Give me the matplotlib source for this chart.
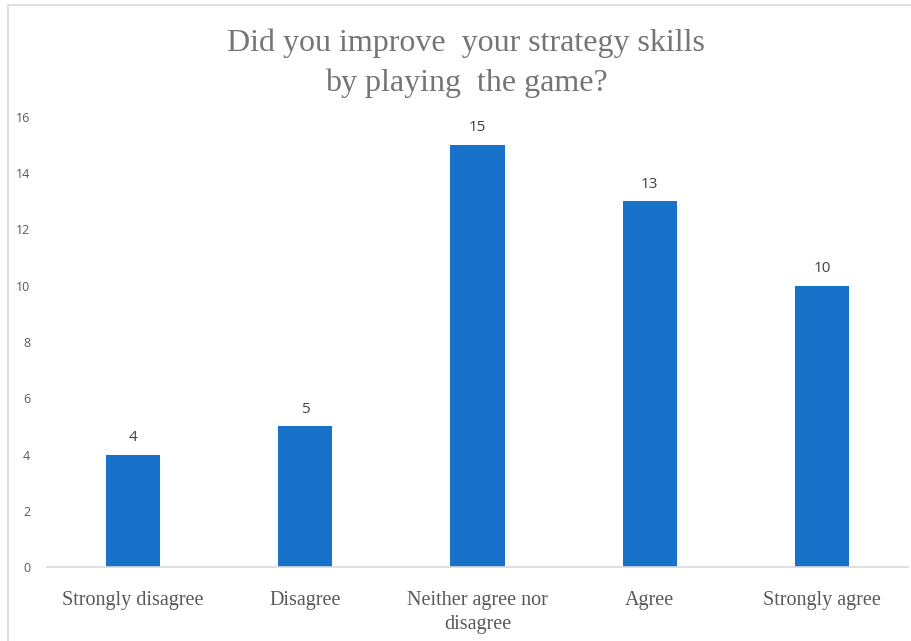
import matplotlib
matplotlib.use("Agg")
import matplotlib.pyplot as plt
from matplotlib.patches import Rectangle

categories = ["Strongly disagree", "Disagree", "Neither agree nor\ndisagree", "Agree", "Strongly agree"]
values = [4, 5, 15, 13, 10]
yticks = [0, 2, 4, 6, 8, 10, 12, 14, 16]
title = "Did you improve  your strategy skills\nby playing  the game?"

fig = plt.figure(figsize=(9.12, 6.41), dpi=100)
fig.patch.set_facecolor("white")
fig.patches.append(Rectangle((8/912, -0.01), 1.2, (641-5)/641 + 0.01, transform=fig.transFigure,
                             fill=False, edgecolor="#d9d9d9", linewidth=1.2))

ax = fig.add_axes([47/912, 74/641, 861/912, 450/641])
x = list(range(len(values)))
bars = ax.bar(x, values, width=0.315, color="#1872CA")
ax.set_xlim(-0.5, len(values) - 0.5)
ax.set_ylim(0, 16)
ax.set_yticks(yticks)
ax.set_yticklabels([str(t) for t in yticks], fontsize=9, color="#595959", family="Open Sans")
ax.set_xticks(x)
ax.set_xticklabels(categories, fontsize=14.5, color="#595959", family="Liberation Serif",
                   linespacing=1.35)
ax.tick_params(axis="both", length=0)
ax.tick_params(axis="x", pad=17)
ax.tick_params(axis="y", pad=12)
for s in ["top", "right", "left"]:
    ax.spines[s].set_visible(False)
ax.spines["bottom"].set_color("#d9d9d9")
ax.spines["bottom"].set_linewidth(1.2)

for xi, v in zip(x, values):
    ax.text(xi, v + 0.35, str(v), ha="center", va="bottom", fontsize=11, color="#404040", family="Open Sans")

fig.text(0.511, 0.955, title, ha="center", va="top", fontsize=23, color="#757575",
         family="Liberation Serif", linespacing=1.45)

fig.savefig("out.png", dpi=100)
